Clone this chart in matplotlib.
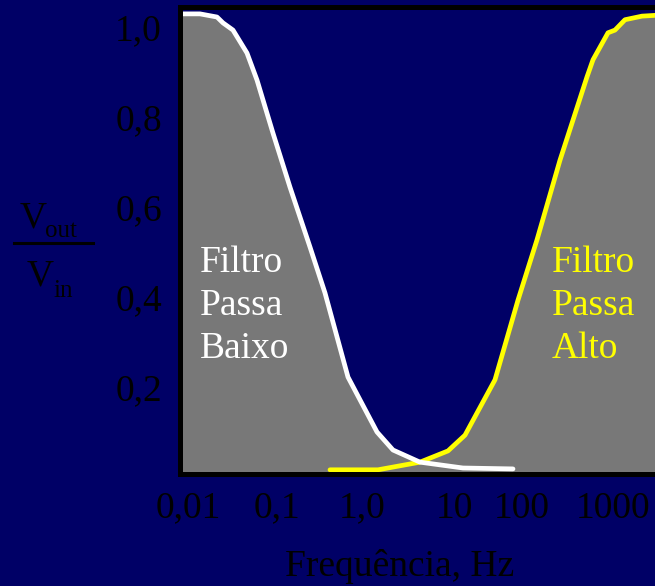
import matplotlib.pyplot as plt

plt.rcParams['font.family'] = ['Liberation Serif', 'DejaVu Serif']

navy = '#000066'
gray = '#787878'

# x is the horizontal position along the (hand drawn) frequency axis
low_x = [0.00, 0.20, 0.37, 0.43, 0.53, 0.67, 0.77, 0.93, 1.10, 1.30, 1.45,
         1.68, 1.97, 2.13, 2.40, 2.83, 3.33]
low_y = [1.029, 1.029, 1.022, 1.009, 0.993, 0.942, 0.882, 0.764, 0.644, 0.511,
         0.409, 0.222, 0.100, 0.060, 0.033, 0.020, 0.018]

high_x = [1.50, 1.98, 2.40, 2.68, 2.85, 3.15, 3.38, 3.57, 3.80, 4.07, 4.13,
          4.28, 4.35, 4.45, 4.62, 4.85]
high_y = [0.016, 0.016, 0.033, 0.058, 0.093, 0.216, 0.393, 0.527, 0.704, 0.889,
          0.927, 0.987, 0.993, 1.016, 1.024, 1.027]

xtick_pos = [0.08, 0.975, 1.825, 2.74, 3.42, 4.33]
xtick_labels = ['0,01', '0,1', '1,0', '10', '100', '1000']
ytick_pos = [0.2, 0.4, 0.6, 0.8, 1.0]
ytick_labels = ['0,2', '0,4', '0,6', '0,8', '1,0']

fig = plt.figure(figsize=(6.55, 5.86), dpi=100, facecolor=navy)
ax = fig.add_axes([0.2748, 0.1903, 0.74, 0.797])
ax.set_facecolor(navy)

ax.fill_between(low_x, 0, low_y, color=gray, lw=0)
ax.fill_between(high_x, 0, high_y, color=gray, lw=0)
ax.plot(high_x, high_y, color='#ffff00', lw=3.4, solid_capstyle='round')
ax.plot(low_x, low_y, color='white', lw=3.4, solid_capstyle='round')

ax.set_xlim(0, 4.847)
ax.set_ylim(0.0056, 1.0433)

ax.set_xticks(xtick_pos)
ax.set_xticklabels(xtick_labels)
ax.set_yticks(ytick_pos)
ax.set_yticklabels(ytick_labels)
ax.tick_params(length=0, labelsize=27, labelcolor='black')
ax.tick_params(axis='x', pad=12)
ax.tick_params(axis='y', pad=13)

for side in ['left', 'bottom', 'top']:
    ax.spines[side].set_color('black')
    ax.spines[side].set_linewidth(3.6)
ax.spines['right'].set_visible(False)

ax.text(0.20, 0.515, 'Filtro\nPassa\nBaixo', color='white', fontsize=27,
        va='top', ha='left', linespacing=1.33)
ax.text(3.72, 0.515, 'Filtro\nPassa\nAlto', color='#ffff00', fontsize=27,
        va='top', ha='left', linespacing=1.33)

fig.text(400 / 655, 1 - 566 / 586, 'Frequência, Hz', fontsize=27,
         ha='center', va='center', color='black')

# V_out / V_in label
fig.text(20 / 655, 1 - 227 / 586, 'V', fontsize=27, va='baseline', color='black')
fig.text(45 / 655, 1 - 237 / 586, 'out', fontsize=18, va='baseline', color='black')
fig.add_artist(plt.Line2D([14 / 655, 93 / 655], [1 - 243 / 586, 1 - 243 / 586],
                          color='black', lw=2.2, transform=fig.transFigure))
fig.text(27 / 655, 1 - 286 / 586, 'V', fontsize=27, va='baseline', color='black')
fig.text(53 / 655, 1 - 297 / 586, 'in', fontsize=18, va='baseline', color='black')

fig.savefig('out.png', dpi=100, facecolor=navy)
